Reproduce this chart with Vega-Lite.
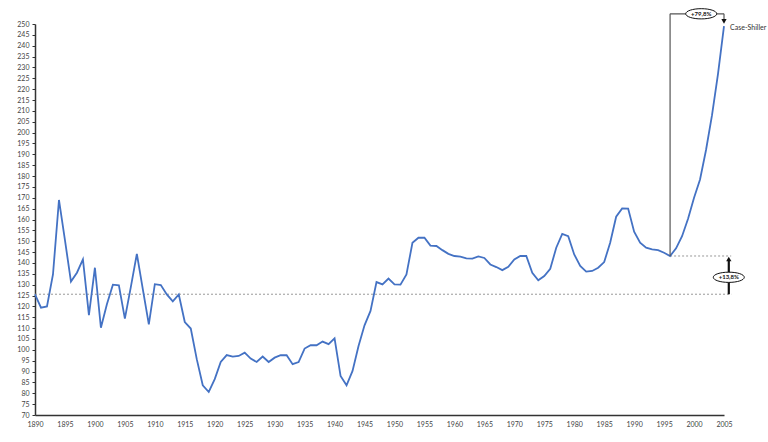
{
  "$schema": "https://vega.github.io/schema/vega-lite/v6.json",
  "width": 689,
  "height": 391,
  "autosize": {"type": "none"},
  "padding": {"left": 35, "top": 24, "right": 44, "bottom": 27},
  "background": "white",
  "config": {"view": {"stroke": null}, "font": "Lato"},
  "datasets": {
    "series": [
      {"x": 1890, "y": 125.5}, {"x": 1891, "y": 119.4}, {"x": 1892, "y": 120}, {"x": 1893, "y": 134.7},
      {"x": 1894, "y": 169}, {"x": 1895, "y": 150.5}, {"x": 1896, "y": 131.4}, {"x": 1897, "y": 135.5},
      {"x": 1898, "y": 141.6}, {"x": 1899, "y": 116}, {"x": 1900, "y": 137.8}, {"x": 1901, "y": 110.2},
      {"x": 1902, "y": 121}, {"x": 1903, "y": 130}, {"x": 1904, "y": 129.7}, {"x": 1905, "y": 114.4},
      {"x": 1906, "y": 129}, {"x": 1907, "y": 144.2}, {"x": 1908, "y": 127.8}, {"x": 1909, "y": 111.7},
      {"x": 1910, "y": 130.2}, {"x": 1911, "y": 129.8}, {"x": 1912, "y": 125.5}, {"x": 1913, "y": 122.3},
      {"x": 1914, "y": 125.5}, {"x": 1915, "y": 112.8}, {"x": 1916, "y": 109.8}, {"x": 1917, "y": 95.7},
      {"x": 1918, "y": 83.7}, {"x": 1919, "y": 80.6}, {"x": 1920, "y": 86.5}, {"x": 1921, "y": 94.4},
      {"x": 1922, "y": 97.6}, {"x": 1923, "y": 96.9}, {"x": 1924, "y": 97.2}, {"x": 1925, "y": 98.7},
      {"x": 1926, "y": 96}, {"x": 1927, "y": 94.4}, {"x": 1928, "y": 96.9}, {"x": 1929, "y": 94.4},
      {"x": 1930, "y": 96.4}, {"x": 1931, "y": 97.5}, {"x": 1932, "y": 97.5}, {"x": 1933, "y": 93.4},
      {"x": 1934, "y": 94.4}, {"x": 1935, "y": 100.6}, {"x": 1936, "y": 102.1}, {"x": 1937, "y": 102.1},
      {"x": 1938, "y": 103.8}, {"x": 1939, "y": 102.6}, {"x": 1940, "y": 105.3}, {"x": 1941, "y": 88},
      {"x": 1942, "y": 83.7}, {"x": 1943, "y": 90.3}, {"x": 1944, "y": 101.8}, {"x": 1945, "y": 111.3},
      {"x": 1946, "y": 117.9}, {"x": 1947, "y": 131.2}, {"x": 1948, "y": 130.1}, {"x": 1949, "y": 132.8},
      {"x": 1950, "y": 130.1}, {"x": 1951, "y": 130}, {"x": 1952, "y": 134.7}, {"x": 1953, "y": 149.3},
      {"x": 1954, "y": 151.6}, {"x": 1955, "y": 151.6}, {"x": 1956, "y": 148}, {"x": 1957, "y": 147.8},
      {"x": 1958, "y": 145.9}, {"x": 1959, "y": 144.2}, {"x": 1960, "y": 143.2}, {"x": 1961, "y": 142.9},
      {"x": 1962, "y": 142.1}, {"x": 1963, "y": 142}, {"x": 1964, "y": 143}, {"x": 1965, "y": 142.3},
      {"x": 1966, "y": 139.3}, {"x": 1967, "y": 138.1}, {"x": 1968, "y": 136.7}, {"x": 1969, "y": 138.2},
      {"x": 1970, "y": 141.6}, {"x": 1971, "y": 143.2}, {"x": 1972, "y": 143.2}, {"x": 1973, "y": 135.5},
      {"x": 1974, "y": 132}, {"x": 1975, "y": 134}, {"x": 1976, "y": 137.3}, {"x": 1977, "y": 147},
      {"x": 1978, "y": 153.4}, {"x": 1979, "y": 152.3}, {"x": 1980, "y": 143.9}, {"x": 1981, "y": 138.6},
      {"x": 1982, "y": 136}, {"x": 1983, "y": 136.3}, {"x": 1984, "y": 137.8}, {"x": 1985, "y": 140.4},
      {"x": 1986, "y": 149.3}, {"x": 1987, "y": 161.3}, {"x": 1988, "y": 165.1}, {"x": 1989, "y": 165},
      {"x": 1990, "y": 154.4}, {"x": 1991, "y": 149.3}, {"x": 1992, "y": 147}, {"x": 1993, "y": 146.2},
      {"x": 1994, "y": 145.9}, {"x": 1995, "y": 144.7}, {"x": 1996, "y": 143.2}, {"x": 1997, "y": 146.7},
      {"x": 1998, "y": 152.3}, {"x": 1999, "y": 160.3}, {"x": 2000, "y": 170}, {"x": 2001, "y": 178.4},
      {"x": 2002, "y": 192}, {"x": 2003, "y": 208}, {"x": 2004, "y": 227}, {"x": 2005, "y": 249}
    ],
    "dashed": [
      {"x": 1890, "x2": 2006.2, "y": 125.6, "y2": 125.6},
      {"x": 1996, "x2": 2006.2, "y": 143.2, "y2": 143.2}
    ],
    "bracket": [
      {"x": 1996, "x2": 1996, "y": 143.2, "y2": 254.7},
      {"x": 1996, "x2": 2005, "y": 254.7, "y2": 254.7},
      {"x": 2005, "x2": 2005, "y": 254.7, "y2": 251.8}
    ],
    "uparrow": [
      {"x": 2005.8, "x2": 2005.8, "y": 125.6, "y2": 141}
    ],
    "heads": [
      {"x": 2005, "y": 251.2, "shape": "triangle-down"},
      {"x": 2005.8, "y": 141.8, "shape": "triangle-up"}
    ],
    "labels": [
      {"x": 2001.2, "y": 254.7, "label": "+79,8%"},
      {"x": 2005.8, "y": 133.4, "label": "+13,8%"}
    ],
    "series_name": [
      {"x": 2005, "y": 248.3, "label": "Case-Shiller"}
    ]
  },
  "encoding": {
    "x": {
      "field": "x",
      "type": "quantitative",
      "scale": {"domain": [1890, 2005], "nice": false, "zero": false},
      "axis": {
        "title": null,
        "values": [1890, 1895, 1900, 1905, 1910, 1915, 1920, 1925, 1930, 1935, 1940, 1945, 1950, 1955, 1960, 1965, 1970, 1975, 1980, 1985, 1990, 1995, 2000, 2005],
        "format": "d",
        "grid": false,
        "ticks": false,
        "labelPadding": 5,
        "labelFontSize": 7,
        "labelColor": "#444",
        "labelFlush": false,
        "labelOverlap": false,
        "domainColor": "#333",
        "domainWidth": 1.5
      }
    },
    "y": {
      "field": "y",
      "type": "quantitative",
      "scale": {"domain": [70, 250], "nice": false, "zero": false},
      "axis": {
        "title": null,
        "values": [70, 75, 80, 85, 90, 95, 100, 105, 110, 115, 120, 125, 130, 135, 140, 145, 150, 155, 160, 165, 170, 175, 180, 185, 190, 195, 200, 205, 210, 215, 220, 225, 230, 235, 240, 245, 250],
        "grid": false,
        "tickSize": 3,
        "tickColor": "#333",
        "labelPadding": 3,
        "labelFontSize": 7,
        "labelColor": "#444",
        "labelOverlap": false,
        "labelFlush": false,
        "domainColor": "#333",
        "domainWidth": 1.5
      }
    }
  },
  "layer": [
    {
      "data": {"name": "dashed"},
      "mark": {"type": "rule", "color": "#999", "strokeWidth": 1, "strokeDash": [2, 2]},
      "encoding": {"x2": {"field": "x2"}, "y2": {"field": "y2"}}
    },
    {
      "data": {"name": "series"},
      "mark": {"type": "line", "color": "#4472C4", "strokeWidth": 1.8}
    },
    {
      "data": {"name": "bracket"},
      "mark": {"type": "rule", "color": "#555", "strokeWidth": 1.2},
      "encoding": {"x2": {"field": "x2"}, "y2": {"field": "y2"}}
    },
    {
      "data": {"name": "uparrow"},
      "mark": {"type": "rule", "color": "#111", "strokeWidth": 2.2},
      "encoding": {"x2": {"field": "x2"}, "y2": {"field": "y2"}}
    },
    {
      "data": {"name": "heads"},
      "mark": {"type": "point", "filled": true, "color": "#111", "size": 28, "opacity": 1},
      "encoding": {"shape": {"field": "shape", "type": "nominal", "scale": null}}
    },
    {
      "data": {"name": "labels"},
      "mark": {"type": "point", "shape": "M-1,0A1,0.33,0,1,1,1,0A1,0.33,0,1,1,-1,0Z", "size": 961, "filled": true, "fill": "white", "stroke": "#111", "strokeWidth": 1, "opacity": 1}
    },
    {
      "data": {"name": "labels"},
      "mark": {"type": "text", "fontSize": 6, "fontWeight": "bold", "color": "#111", "align": "center", "baseline": "middle"},
      "encoding": {"text": {"field": "label"}}
    },
    {
      "data": {"name": "series_name"},
      "mark": {"type": "text", "fontSize": 7, "color": "#333", "align": "left", "baseline": "middle", "dx": 6},
      "encoding": {"text": {"field": "label"}}
    }
  ]
}
